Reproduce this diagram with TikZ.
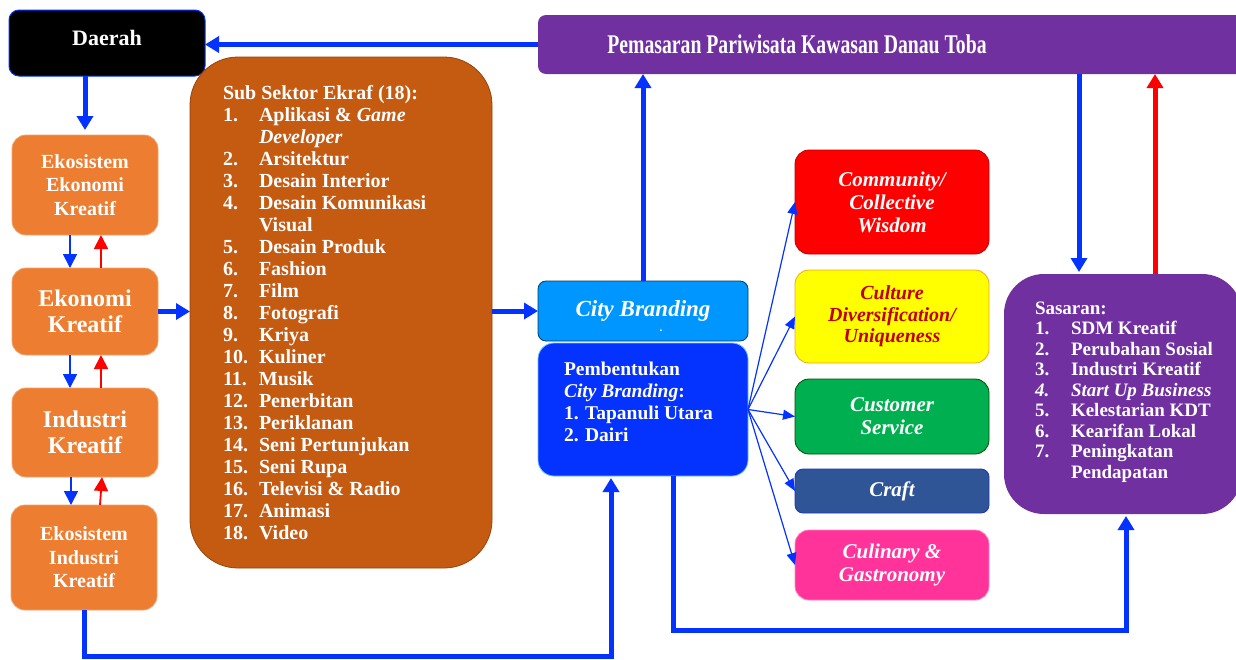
\documentclass[tikz,border=0pt]{standalone}
\usepackage{fontspec}
\setmainfont{Liberation Serif}
\usepackage{graphicx}
\usetikzlibrary{arrows.meta}
\definecolor{arrblue}{HTML}{0433FF}
\definecolor{ekoorange}{HTML}{ED7D31}
\definecolor{subbrown}{HTML}{C55A11}
\definecolor{purp}{HTML}{7030A0}
\definecolor{cbblue}{HTML}{0096FF}
\definecolor{redc}{HTML}{FF0000}
\definecolor{yelc}{HTML}{FFFF00}
\definecolor{darkred}{HTML}{C00000}
\definecolor{greenc}{HTML}{00B050}
\definecolor{craftc}{HTML}{2F5597}
\definecolor{pinkc}{HTML}{FF3399}
\newcommand{\fz}[2]{\bfseries\fontsize{#1}{#2}\selectfont}
\newcommand{\lstit}[2]{\makebox[36pt][l]{#1}#2}
\begin{document}
\begin{tikzpicture}[x=1pt,y=-1pt,
  every node/.style={inner sep=0pt, outer sep=0pt},
  rb/.style={rounded corners=#1, align=center, text=white},
  rb/.default=12pt,
  ekobox/.style={rb=14pt, fill=ekoorange, draw=ekoorange!70!white, line width=0.8pt, minimum width=146pt},
  rbox/.style={rb=14pt, minimum width=194pt, line width=0.8pt},
  listtxt/.style={anchor=west, align=left, text=white},
  thk/.style={draw=arrblue, line width=5pt, -{Triangle[length=14pt,width=16pt]}},
  fan/.style={draw=arrblue, line width=1.2pt, -{Triangle[length=12pt,width=10pt]}},
  sml/.style={line width=1.8pt, -{Triangle[length=14pt,width=14pt]}}
]
\useasboundingbox (0,0) rectangle (1236,659);
\clip (0,0) rectangle (1236,659);

% top
\node[rb=10pt, fill=black, draw=arrblue, line width=1pt, minimum width=196pt, minimum height=66pt, text depth=10pt, font=\fz{22}{24}] (daerah) at (107,43) {Daerah};
\node[rb=8pt, fill=purp, minimum width=712pt, minimum height=59pt] (pem) at (894,44.5) {};
\node[text=white, font=\fz{27}{28}] (pemtxt) at (797,44) {\scalebox{0.73}[1]{Pemasaran Pariwisata Kawasan Danau Toba}};

% left column
\node[ekobox, minimum height=100pt, font=\fz{20}{23.5}] (eko1) at (85,185) {Ekosistem\\Ekonomi\\Kreatif};
\node[ekobox, minimum height=87pt, font=\fz{24}{26}] (ek) at (85,311.5) {Ekonomi\\Kreatif};
\node[ekobox, minimum height=89pt, font=\fz{24}{26}] (ind) at (85,432.5) {Industri\\Kreatif};
\node[ekobox, minimum height=105pt, font=\fz{20}{23.5}] (eki) at (84,557.5) {Ekosistem\\Industri\\Kreatif};

% sub sektor
\node[rb=48pt, fill=subbrown, draw=subbrown!75!black, line width=0.8pt, minimum width=302pt, minimum height=511pt] (sub) at (341,312.5) {};
\node[listtxt, font=\fz{20}{22}] (subtxt) at (223,313) {Sub Sektor Ekraf (18):\\
\lstit{1.}{Aplikasi \& \textit{Game}}\\
\lstit{}{\textit{Developer}}\\
\lstit{2.}{Arsitektur}\\
\lstit{3.}{Desain Interior}\\
\lstit{4.}{Desain Komunikasi}\\
\lstit{}{Visual}\\
\lstit{5.}{Desain Produk}\\
\lstit{6.}{Fashion}\\
\lstit{7.}{Film}\\
\lstit{8.}{Fotografi}\\
\lstit{9.}{Kriya}\\
\lstit{10.}{Kuliner}\\
\lstit{11.}{Musik}\\
\lstit{12.}{Penerbitan}\\
\lstit{13.}{Periklanan}\\
\lstit{14.}{Seni Pertunjukan}\\
\lstit{15.}{Seni Rupa}\\
\lstit{16.}{Televisi \& Radio}\\
\lstit{17.}{Animasi}\\
\lstit{18.}{Video}};

% city branding
\node[rb=8pt, fill=cbblue, draw=black!60!cbblue, line width=0.8pt, minimum width=210pt, minimum height=60pt, font={\fz{23}{25}\itshape}] (cb) at (643,311) {City Branding};
\node[text=white, font=\fz{11}{11}] (cbdot) at (661,331) {.};
\node[rb=16pt, fill=arrblue, draw=cbblue!60!white, line width=0.8pt, minimum width=210pt, minimum height=133pt] (pemb) at (643,409.5) {};
\node[listtxt, font=\fz{19.5}{22}] (pembtxt) at (564,402) {Pembentukan\\\textit{City Branding}:\\1. Tapanuli Utara\\2. Dairi};

% right boxes
\node[rbox, fill=redc, draw=red!75!black, minimum height=104pt, font={\fz{21}{23}\itshape}] (comm) at (892,202) {Community/\\Collective\\Wisdom};
\node[rbox, fill=yelc, draw=ekoorange!70!yellow, minimum height=93pt, text=darkred, font={\fz{20}{21.5}\itshape}] (cult) at (892,316.5) {Culture\\Diversification/\\Uniqueness};
\node[rbox, fill=greenc, draw=green!30!black, minimum height=75pt, font={\fz{21}{23}\itshape}] (cust) at (892,416.5) {Customer\\Service};
\node[rbox, rb=8pt, fill=craftc, draw=craftc!60!blue, minimum height=44pt, font={\fz{21}{23}\itshape}] (craft) at (892,491) {Craft};
\node[rbox, fill=pinkc, draw=pinkc!60!white, minimum height=70pt, font={\fz{21}{23}\itshape}] (culi) at (892,565) {Culinary \&\\Gastronomy};

% sasaran
\node[rb=40pt, fill=purp, minimum width=238pt, minimum height=240pt] (sas) at (1123,394) {};
\node[listtxt, font=\fz{19}{20.5}] (sastxt) at (1035,392) {Sasaran:\\
\lstit{1.}{SDM Kreatif}\\
\lstit{2.}{Perubahan Sosial}\\
\lstit{3.}{Industri Kreatif}\\
\lstit{\textit{4.}}{\textit{Start Up Business}}\\
\lstit{5.}{Kelestarian KDT}\\
\lstit{6.}{Kearifan Lokal}\\
\lstit{7.}{Peningkatan}\\
\lstit{}{Pendapatan}};

% arrows
\draw[thk] (pem.west) -- (pem.west -| daerah.east);
\draw[thk] (daerah.south -| eko1.north) -- ([yshift=5pt]eko1.north);
\draw[thk] (ek.east) -- (ek.east -| sub.west);
\draw[thk] (sub.east |- cb.west) -- (cb.west);
\draw[thk] (cb.north) -- (cb.north |- pem.south);
\coordinate (pd) at (1079,0);
\coordinate (pu) at (1155,0);
\draw[thk] (pem.south -| pd) -- ([yshift=2pt]sas.north -| pd);
\draw[thk, draw=red] (sas.north -| pu) -- (pem.south -| pu);
\coordinate (b1) at (611,656);
\draw[thk] (eki.south) |- (b1) -- ([yshift=-2pt]b1 |- pemb.south);
\coordinate (b2) at (673,630);
\coordinate (b3) at (1126,630);
\draw[thk] (pemb.south -| b2) -- (b2) -- (b3) -- ([yshift=-2pt]b3 |- sas.south);

\foreach \t in {comm,cult,cust,craft,culi} \draw[fan] (pemb.east) -- (\t.west);

\draw[sml, draw=arrblue] ([xshift=-15pt]eko1.south) -- ([xshift=-15pt]ek.north);
\draw[sml, draw=red] ([xshift=16pt]ek.north) -- ([xshift=16pt]eko1.south);
\draw[sml, draw=arrblue] ([xshift=-15pt]ek.south) -- ([xshift=-15pt]ind.north);
\draw[sml, draw=red] ([xshift=16pt]ind.north) -- ([xshift=16pt]ek.south);
\draw[sml, draw=arrblue] ([xshift=-14pt]ind.south) -- ([xshift=-13pt]eki.north);
\draw[sml, draw=red] ([xshift=16pt]eki.north) -- ([xshift=17pt]ind.south);
\end{tikzpicture}
\end{document}
